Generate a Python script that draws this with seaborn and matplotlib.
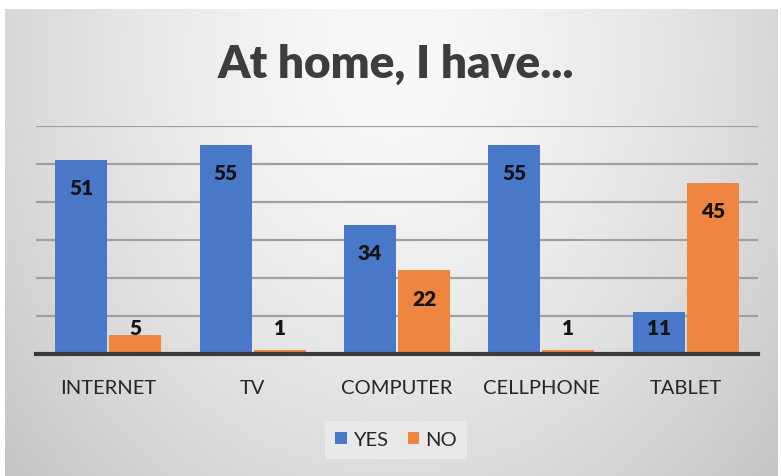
import numpy as np
import pandas as pd
import matplotlib
matplotlib.use("Agg")
import matplotlib.pyplot as plt
import seaborn as sns

# Survey answers per device
items = ["INTERNET", "TV", "COMPUTER", "CELLPHONE", "TABLET"]
yes_counts = [51, 55, 34, 55, 11]
no_counts = [5, 1, 22, 1, 45]
answers = ["YES", "NO"]
title = "At home, I have..."

BLUE = "#4A78C9"
ORANGE = "#EE8540"
FONT = ["Lato", "DejaVu Sans"]

df = pd.DataFrame({
    "item": items * 2,
    "answer": [answers[0]] * len(items) + [answers[1]] * len(items),
    "count": yes_counts + no_counts,
})

sns.set_theme(style="white")
plt.rcParams["font.family"] = FONT

W, H = 781, 477
fig = plt.figure(figsize=(W / 100, H / 100), dpi=100, facecolor="white")

# Soft radial grey backdrop for the chart frame
bg = fig.add_axes([5 / W, 0, (778 - 5) / W, (H - 10) / H], zorder=0)
ny, nx = 300, 500
yy, xx = np.mgrid[0:ny, 0:nx]
cx, cy = nx * 0.5, ny * 0.1
r = np.sqrt(((xx - cx) / (nx * 0.55)) ** 2 + ((yy - cy) / (ny * 1.1)) ** 2)
shade = np.clip(0.975 - 0.15 * r ** 1.5, 0.0, 1.0)
bg.imshow(np.dstack([shade] * 3), aspect="auto", extent=[0, 1, 0, 1], origin="upper")
bg.set_axis_off()

ax = fig.add_axes([36 / W, 122 / H, (758 - 36) / W, 228 / H], zorder=1)
ax.patch.set_alpha(0)

sns.barplot(data=df, x="item", y="count", hue="answer", order=items,
            hue_order=answers, palette=[BLUE, ORANGE], saturation=1,
            width=0.75, gap=0.04, linewidth=0, ax=ax, legend=True)

ax.set_ylim(0, 60)
ax.set_yticks(np.arange(0, 61, 10))
ax.set_yticklabels([])
ax.tick_params(axis="y", length=0)
ax.yaxis.grid(True, color="#a0a0a0", linewidth=1.6)
ax.set_axisbelow(True)
for side in ["top", "right", "left"]:
    ax.spines[side].set_visible(False)
ax.spines["bottom"].set_color("#3a3a3a")
ax.spines["bottom"].set_linewidth(3)
ax.spines["bottom"].set_zorder(5)
ax.set_xlabel("")
ax.set_ylabel("")
ax.tick_params(axis="x", length=0, pad=18, labelsize=14.5, labelcolor="#262626")
ax.set_xlim(-0.5, len(items) - 0.5)

# Value labels near the bar tops, kept clear of the baseline
for container, vals in zip(ax.containers, [yes_counts, no_counts]):
    for bar, v in zip(container, vals):
        y = max(v - 7.3, 6.9)
        ax.text(bar.get_x() + bar.get_width() / 2, y, str(v), ha="center",
                va="center", fontsize=15, fontweight="heavy", color="#141414",
                family=FONT, zorder=6)

handles, labels = ax.get_legend_handles_labels()
ax.legend_.remove()
leg = fig.legend(handles, labels, loc="center", bbox_to_anchor=(396 / W, 1 - 441 / H),
                 ncol=2, frameon=True, fontsize=14.5, handlelength=0.55,
                 handleheight=0.55, handletextpad=0.3, columnspacing=1.0,
                 borderpad=0.5, fancybox=False)
leg.get_frame().set_facecolor("#ebebeb")
leg.get_frame().set_edgecolor("none")
leg.get_frame().set_alpha(0.85)
for t in leg.get_texts():
    t.set_color("#262626")

fig.text(396 / W, 1 - 64 / H, title, ha="center", va="center", fontsize=33,
         fontweight="heavy", color="#3d3d3d", family=FONT)

fig.savefig("out.png", dpi=100, facecolor="white")
